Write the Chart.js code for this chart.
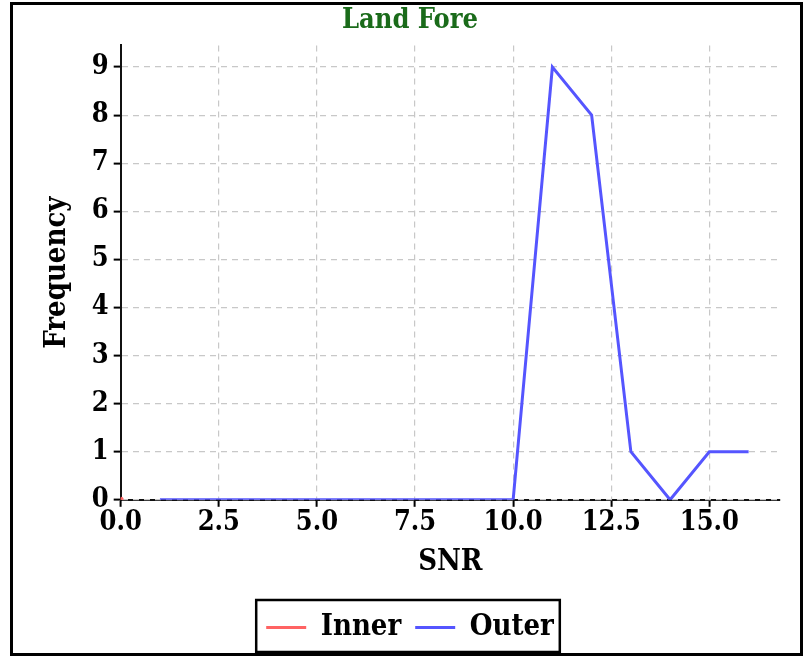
<!DOCTYPE html>
<html>
<head>
<meta charset="utf-8">
<script src="https://cdn.jsdelivr.net/npm/chart.js@4.4.0/dist/chart.umd.min.js"></script>
<style>
  body { margin: 0; background: #fff; }
  canvas { display: block; }
</style>
</head>
<body>
<canvas id="chart" width="807" height="657"></canvas>
<script>
// SNR histogram
let innerSnr = [0];
let innerFreq = [0];
let outerSnr = [1, 2, 3, 4, 5, 6, 7, 8, 9, 10, 11, 12, 13, 14, 15, 16];
let outerFreq = [0, 0, 0, 0, 0, 0, 0, 0, 0, 0, 9, 8, 1, 0, 1, 1];
let xTicks = [0, 2.5, 5, 7.5, 10, 12.5, 15];
let yTicks = [0, 1, 2, 3, 4, 5, 6, 7, 8, 9];

const serif = "'DejaVu Serif Condensed', 'DejaVu Serif', serif";

function toPoints(xs, ys) {
    return xs.map((x, i) => ({ x: x, y: ys[i] }));
}

// black frame around the whole picture + box around the legend items
const framePlugin = {
    id: 'frame',
    afterDraw(chart) {
        const ctx = chart.ctx;
        ctx.save();
        ctx.strokeStyle = '#000';
        ctx.lineWidth = 3;
        ctx.strokeRect(11.5, 3.5, 790, 651);
        const lg = chart.legend;
        const boxes = lg.legendHitBoxes;
        if (boxes && boxes.length) {
            const l = Math.min(...boxes.map(b => b.left)) - 10;
            const r = Math.max(...boxes.map(b => b.left + b.width)) + 6;
            ctx.lineWidth = 2.5;
            ctx.strokeRect(l, lg.top + 1, r - l, lg.height - 1);
        }
        ctx.restore();
    }
};

const ctx = document.getElementById('chart').getContext('2d');
const chart = new Chart(ctx, {
    type: 'line',
    data: {
        datasets: [{
            label: 'Inner',
            data: toPoints(innerSnr, innerFreq),
            borderColor: 'rgba(255, 99, 99, 1)',
            backgroundColor: 'rgba(255, 99, 99, 1)',
            borderWidth: 3,
            pointRadius: 1.5,
            fill: false,
        }, {
            label: 'Outer',
            data: toPoints(outerSnr, outerFreq),
            borderColor: 'rgba(85, 85, 255, 1)',
            backgroundColor: 'rgba(85, 85, 255, 1)',
            borderWidth: 3,
            pointRadius: 0,
            tension: 0,
            fill: false,
        }]
    },
    options: {
        responsive: false,
        animation: false,
        layout: { padding: { left: 40, right: 27, top: 5, bottom: 5 } },
        plugins: {
            title: {
                display: true,
                text: 'Land Fore',
                color: '#1a6b1a',
                font: { family: serif, size: 27, weight: 'bold' },
                padding: { top: 0, bottom: 8 }
            },
            legend: {
                position: 'bottom',
                labels: {
                    color: '#000',
                    font: { family: serif, size: 29, weight: 'bold' },
                    usePointStyle: true,
                    pointStyle: 'line',
                    pointStyleWidth: 40,
                    boxHeight: 10,
                    padding: 14
                }
            },
            tooltip: { enabled: false }
        },
        scales: {
            x: {
                type: 'linear',
                min: 0,
                max: 16.8,
                afterBuildTicks: (scale) => {
                    scale.ticks = xTicks.map(v => ({ value: v }));
                },
                ticks: {
                    color: '#000',
                    font: { family: serif, size: 27, weight: 'bold' },
                    padding: 0,
                    maxRotation: 0,
                    callback: (v) => v.toFixed(1)
                },
                grid: { color: '#c8c8c8', lineWidth: 1.2, tickColor: '#000', tickLength: 7, tickWidth: 2 },
                border: { color: '#111', width: 2, dash: [6, 5], z: -1 },
                title: {
                    display: true,
                    text: 'SNR',
                    color: '#000',
                    font: { family: serif, size: 29, weight: 'bold' },
                    padding: { top: 6, bottom: 19 }
                }
            },
            y: {
                type: 'linear',
                min: 0,
                max: 9.45,
                afterBuildTicks: (scale) => {
                    scale.ticks = yTicks.map(v => ({ value: v }));
                },
                ticks: {
                    color: '#000',
                    font: { family: serif, size: 27, weight: 'bold' },
                    padding: 5
                },
                grid: { color: '#c8c8c8', lineWidth: 1.2, tickColor: '#000', tickLength: 7, tickWidth: 2 },
                border: { color: '#111', width: 2, dash: [6, 5], z: -1 },
                title: {
                    display: true,
                    text: 'Frequency',
                    color: '#000',
                    font: { family: serif, size: 29, weight: 'bold' },
                    padding: { top: 0, bottom: 12 }
                }
            }
        }
    },
    plugins: [framePlugin]
});
</script>
</body>
</html>
